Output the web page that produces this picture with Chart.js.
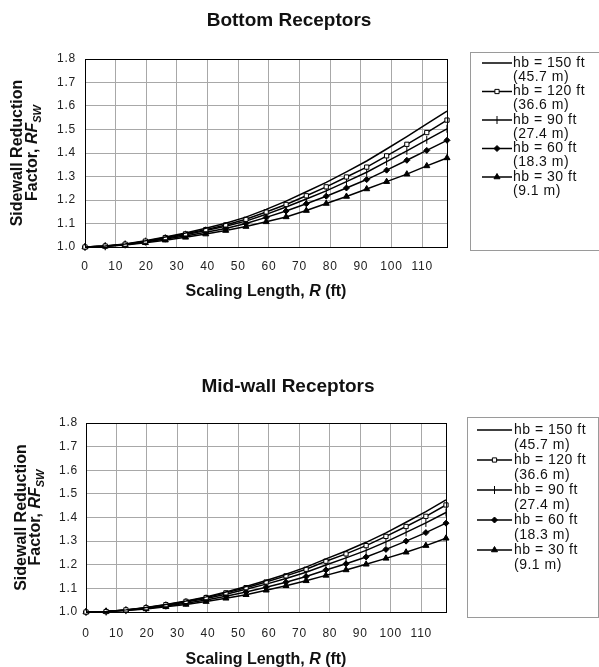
<!DOCTYPE html>
<html>
<head>
<meta charset="utf-8">
<script src="https://cdn.jsdelivr.net/npm/chart.js@4.4.0/dist/chart.umd.min.js"></script>
<style>
  html, body { margin: 0; padding: 0; background: #fff; }
  #page { position: relative; width: 599px; height: 667px; overflow: hidden; }
  canvas { position: absolute; left: 0; }
  #bottomChart { top: 0; }
  #midChart { top: 350px; }
</style>
</head>
<body>
<div id="page">
  <canvas id="bottomChart" width="599" height="310"></canvas>
  <canvas id="midChart" width="599" height="317"></canvas>
</div>
<script>
// ========== data ==========
// scaling length R (ft), points every 2 m
const scalingLength = [0, 6.6, 13.1, 19.7, 26.2, 32.8, 39.4, 45.9, 52.5, 59.1, 65.6, 72.2, 78.7, 85.3, 91.9, 98.4, 105.0, 111.5, 118.1]

const heightLabels = ['hb = 150 ft', 'hb = 120 ft', 'hb = 90 ft', 'hb = 60 ft', 'hb = 30 ft']
const metricLabels = ['(45.7 m)', '(36.6 m)', '(27.4 m)', '(18.3 m)', '(9.1 m)']

// Bottom receptors, RFsw
const bottom150 = [1.000, 1.004, 1.013, 1.027, 1.043, 1.060, 1.080, 1.101, 1.127, 1.160, 1.195, 1.235, 1.275, 1.320, 1.366, 1.417, 1.470, 1.524, 1.578]
const bottom120 = [1.000, 1.004, 1.012, 1.025, 1.040, 1.056, 1.074, 1.094, 1.118, 1.149, 1.181, 1.218, 1.256, 1.298, 1.340, 1.388, 1.437, 1.487, 1.540]
const bottom90 = [1.000, 1.003, 1.011, 1.023, 1.037, 1.052, 1.070, 1.088, 1.110, 1.139, 1.170, 1.204, 1.239, 1.278, 1.318, 1.363, 1.409, 1.456, 1.503]
const bottom60 = [1.000, 1.003, 1.010, 1.021, 1.034, 1.047, 1.063, 1.079, 1.100, 1.126, 1.153, 1.184, 1.216, 1.251, 1.287, 1.327, 1.369, 1.411, 1.454]
const bottom30 = [1.000, 1.003, 1.009, 1.018, 1.029, 1.041, 1.055, 1.070, 1.087, 1.107, 1.128, 1.155, 1.185, 1.215, 1.247, 1.278, 1.310, 1.345, 1.379]

// Mid-wall receptors, RFsw
const mid150 = [1.000, 1.002, 1.009, 1.019, 1.032, 1.047, 1.064, 1.085, 1.108, 1.133, 1.160, 1.190, 1.225, 1.258, 1.295, 1.335, 1.380, 1.425, 1.475]
const mid120 = [1.000, 1.002, 1.009, 1.018, 1.031, 1.045, 1.061, 1.081, 1.103, 1.127, 1.153, 1.181, 1.215, 1.246, 1.281, 1.320, 1.362, 1.405, 1.453]
const mid90 = [1.000, 1.002, 1.008, 1.017, 1.028, 1.042, 1.057, 1.075, 1.096, 1.118, 1.142, 1.168, 1.199, 1.229, 1.261, 1.297, 1.337, 1.377, 1.421]
const mid60 = [1.000, 1.002, 1.007, 1.015, 1.025, 1.037, 1.051, 1.067, 1.085, 1.105, 1.126, 1.150, 1.178, 1.204, 1.233, 1.265, 1.300, 1.336, 1.376]
const mid30 = [1.000, 1.002, 1.006, 1.013, 1.022, 1.032, 1.044, 1.058, 1.073, 1.092, 1.111, 1.132, 1.155, 1.178, 1.202, 1.227, 1.253, 1.281, 1.312]

// ========== styles ==========
const FONT = "'Liberation Sans', Arial, sans-serif"

const seriesStyles = [
  { pointStyle: 'circle', radius: 0, rotation: 0, fill: '#000' },
  { pointStyle: 'rect', radius: 3, rotation: 0, fill: '#fff' },
  { pointStyle: 'line', radius: 4, rotation: 90, fill: '#000' },
  { pointStyle: 'rectRot', radius: 3, rotation: 0, fill: '#000' },
  { pointStyle: 'triangle', radius: 3.5, rotation: 0, fill: '#000' }
]

function drawRich(ctx, parts, cx, cy) {
  let total = 0
  parts.forEach(p => {
    ctx.font = p.font
    total += ctx.measureText(p.text).width
  })
  let x = cx - total / 2
  ctx.textAlign = 'left'
  ctx.textBaseline = 'middle'
  parts.forEach(p => {
    ctx.font = p.font
    ctx.fillText(p.text, x, cy + (p.dy || 0))
    x += ctx.measureText(p.text).width
  })
}

// frame, titles and the two-line legend
const receptorDecor = {
  id: 'receptorDecor',
  beforeDraw(chart) {
    // the scanned tick labels are set a little wide
    chart.ctx.letterSpacing = '0.8px'
  },
  afterDraw(chart, args, opts) {
    const ctx = chart.ctx
    const area = chart.chartArea
    ctx.save()
    ctx.letterSpacing = '0px'

    ctx.strokeStyle = '#000'
    ctx.lineWidth = 1
    ctx.strokeRect(Math.round(area.left) + 0.5, Math.round(area.top) + 0.5,
      Math.round(area.right - area.left), Math.round(area.bottom - area.top))

    ctx.fillStyle = '#111'
    ctx.font = `bold 19px ${FONT}`
    ctx.textAlign = 'center'
    ctx.textBaseline = 'middle'
    ctx.fillText(opts.title, opts.titleX, opts.titleY)

    // y axis title
    const midY = (area.top + area.bottom) / 2
    ctx.save()
    ctx.translate(opts.yTitleX1, midY)
    ctx.rotate(-Math.PI / 2)
    drawRich(ctx, [{ text: 'Sidewall Reduction', font: `bold 16px ${FONT}` }], 0, 0)
    ctx.restore()
    ctx.save()
    ctx.translate(opts.yTitleX2, midY)
    ctx.rotate(-Math.PI / 2)
    drawRich(ctx, [
      { text: 'Factor, ', font: `bold 16px ${FONT}` },
      { text: 'RF', font: `italic bold 16px ${FONT}` },
      { text: 'SW', font: `italic bold 11px ${FONT}`, dy: 5 }
    ], 0, 0)
    ctx.restore()

    // x axis title
    drawRich(ctx, [
      { text: 'Scaling Length, ', font: `bold 16px ${FONT}` },
      { text: 'R', font: `italic bold 16px ${FONT}` },
      { text: ' (ft)', font: `bold 16px ${FONT}` }
    ], (area.left + area.right) / 2, area.bottom + opts.xTitleOffset)

    // legend
    const lg = opts.legend
    ctx.strokeStyle = '#9a9a9a'
    ctx.strokeRect(lg.left + 0.5, lg.top + 0.5, lg.right - lg.left, lg.bottom - lg.top)
    chart.data.datasets.forEach((ds, i) => {
      const s = seriesStyles[i]
      const y = lg.firstY + i * lg.rowGap
      ctx.strokeStyle = '#000'
      ctx.lineWidth = 1.5
      ctx.beginPath()
      ctx.moveTo(lg.sampleX0, y)
      ctx.lineTo(lg.sampleX1, y)
      ctx.stroke()
      if (s.radius > 0) {
        ctx.lineWidth = 1
        ctx.fillStyle = s.fill
        Chart.helpers.drawPoint(ctx, { pointStyle: s.pointStyle, rotation: s.rotation, radius: s.radius, borderWidth: 1 },
          (lg.sampleX0 + lg.sampleX1) / 2, y)
      }
      ctx.fillStyle = '#111'
      ctx.font = `14px ${FONT}`
      ctx.letterSpacing = '0.5px'
      ctx.textAlign = 'left'
      ctx.textBaseline = 'middle'
      ctx.fillText(heightLabels[i], lg.textX, y)
      ctx.fillText(metricLabels[i], lg.textX, y + lg.lineGap)
      ctx.letterSpacing = '0px'
    })

    ctx.restore()
  }
}

function buildDatasets(seriesList) {
  return seriesList.map((values, i) => {
    const s = seriesStyles[i]
    return {
      label: heightLabels[i],
      data: scalingLength.map((x, k) => ({ x: x, y: values[k] })),
      borderColor: '#000',
      borderWidth: 1.5,
      pointStyle: s.pointStyle,
      pointRadius: s.radius,
      pointHoverRadius: s.radius,
      pointRotation: s.rotation,
      pointBackgroundColor: s.fill,
      pointBorderColor: '#000',
      pointBorderWidth: 1,
      tension: 0,
      fill: false,
      clip: false
    }
  })
}

function renderReceptorChart(canvasId, seriesList, geo) {
  const ctx = document.getElementById(canvasId).getContext('2d')
  const canvasHeight = ctx.canvas.height

  return new Chart(ctx, {
    type: 'line',
    data: { datasets: buildDatasets(seriesList) },
    plugins: [receptorDecor],
    options: {
      responsive: false,
      animation: false,
      devicePixelRatio: 1,
      layout: { padding: { top: geo.top, right: 599 - geo.right, bottom: 0, left: 0 } },
      plugins: {
        legend: { display: false },
        tooltip: { enabled: false },
        receptorDecor: geo.decor
      },
      scales: {
        x: {
          type: 'linear',
          min: 0,
          max: 118.1,
          afterFit: scale => { scale.height = canvasHeight - geo.bottom },
          ticks: {
            stepSize: 10,
            includeBounds: false,
            padding: geo.xTickPad,
            color: '#222',
            font: { family: FONT, size: 12 },
            maxRotation: 0,
            autoSkip: false
          },
          grid: { color: '#a8a8a8', lineWidth: 1, drawTicks: false },
          border: { display: false }
        },
        y: {
          min: 1.0,
          max: 1.8,
          afterFit: scale => { scale.width = geo.left },
          ticks: {
            stepSize: 0.1,
            padding: geo.yTickPad,
            color: '#222',
            font: { family: FONT, size: 12 },
            callback: v => v.toFixed(1)
          },
          grid: { color: '#a8a8a8', lineWidth: 1, drawTicks: false },
          border: { display: false }
        }
      }
    }
  })
}

renderReceptorChart('bottomChart', [bottom150, bottom120, bottom90, bottom60, bottom30], {
  left: 85, right: 447, top: 59, bottom: 247, xTickPad: 12, yTickPad: 9,
  decor: {
    title: 'Bottom Receptors', titleX: 289, titleY: 21,
    yTitleX1: 18, yTitleX2: 33, xTitleOffset: 45,
    legend: { left: 470, top: 52, right: 600, bottom: 250, firstY: 63, rowGap: 28.5, lineGap: 14,
      sampleX0: 482, sampleX1: 512, textX: 513 }
  }
})

renderReceptorChart('midChart', [mid150, mid120, mid90, mid60, mid30], {
  left: 86, right: 446, top: 73, bottom: 262, xTickPad: 14, yTickPad: 8,
  decor: {
    title: 'Mid-wall Receptors', titleX: 288, titleY: 37,
    yTitleX1: 22, yTitleX2: 36, xTitleOffset: 48,
    legend: { left: 467, top: 67, right: 598, bottom: 267, firstY: 80, rowGap: 30, lineGap: 15,
      sampleX0: 477, sampleX1: 512, textX: 514 }
  }
})
</script>
</body>
</html>
